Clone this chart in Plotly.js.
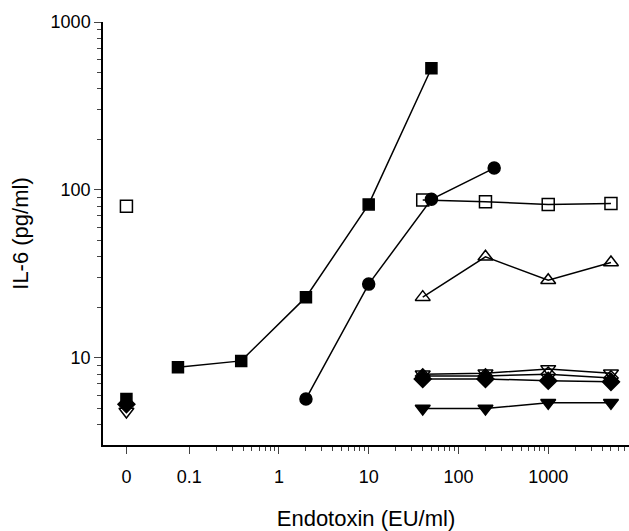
<!DOCTYPE html><html><head><script src="https://cdn.plot.ly/plotly-3.0.0.min.js"></script></head><body style="margin:0"><div id="g" style="width:629px;height:531px"></div><script>
const ZERO=0.02;
const sqX=[ZERO,0.075,0.38,2,10,50], sqY=[5.7,8.8,9.6,23,82,530];
const ciX=[2,10,50,250], ciY=[5.7,27.5,88,135];
const osX=[ZERO], osY=[80];
const osLX=[40,200,1000,5000], osLY=[87,85,82,83];
const tuX=[40,200,1000,5000], tuY=[23,40,29,37];
const tdoX=[ZERO,40,200,1000,5000], tdoY=[4.8,8,8.1,8.6,8.1];
const odX=[40,200,1000,5000], odY=[7.8,7.8,8.0,7.6];
const dX=[ZERO,40,200,1000,5000], dY=[5.3,7.5,7.5,7.3,7.2];
const tdX=[40,200,1000,5000], tdY=[5,5,5.4,5.4];
const tickV=[ZERO,0.1,1,10,100,1000], tickT=['0','0.1','1','10','100','1000'];
function tr(x,y,sym,sz,lines){return {x:x,y:y,mode:lines?'lines+markers':'markers',type:'scatter',line:{color:'black',width:1.5},marker:{symbol:sym,size:sz,color:'black',line:{color:'black',width:1.5}}};}
const data=[
 tr(tdX,tdY,'triangle-down',13,true),
 tr(dX.slice(1),dY.slice(1),'diamond',13,true),tr([dX[0]],[dY[0]],'diamond',13,false),
 tr(odX,odY,'diamond-open',11,true),
 tr(tdoX.slice(1),tdoY.slice(1),'triangle-down-open',13,true),tr([tdoX[0]],[tdoY[0]],'triangle-down-open',13,false),
 tr(tuX,tuY,'triangle-up-open',13,true),
 tr(osLX,osLY,'square-open',12,true),tr(osX,osY,'square-open',12,false),
 tr(ciX,ciY,'circle',12,true),
 tr(sqX.slice(1),sqY.slice(1),'square',11,true),tr([sqX[0]],[sqY[0]],'square',11,false)
];
const layout={showlegend:false,width:629,height:531,margin:{l:103,r:0,t:22,b:86},paper_bgcolor:'white',plot_bgcolor:'white',
font:{family:'Liberation Sans, Arial',size:18,color:'black'},
xaxis:{type:'log',range:[-1.96,3.9],tickvals:tickV,ticktext:tickT,ticks:'outside',ticklen:7,ticklabelstandoff:8,showgrid:false,zeroline:false,showline:true,linecolor:'black',linewidth:1.5,
 minor:{ticks:'outside',ticklen:4,tickvals:[0.2,0.3,0.4,0.5,0.6,0.7,0.8,0.9,2,3,4,5,6,7,8,9,20,30,40,50,60,70,80,90,200,300,400,500,600,700,800,900,2000,3000,4000,5000,6000,7000],showgrid:false},
 title:{text:'Endotoxin (EU/ml)',standoff:30}},
yaxis:{type:'log',range:[Math.log10(3.03),3],tickvals:[10,100,1000],ticktext:['10','100','1000'],ticks:'outside',ticklen:7,showgrid:false,zeroline:false,showline:true,linecolor:'black',linewidth:1.5,
 minor:{ticks:'outside',ticklen:4,tickvals:[4,5,6,7,8,9,20,30,40,50,60,70,80,90,200,300,400,500,600,700,800,900],showgrid:false},
 title:{text:'IL-6 (pg/ml)',standoff:16}}};
Plotly.newPlot('g',data,layout,{displayModeBar:false});
</script></body></html>
